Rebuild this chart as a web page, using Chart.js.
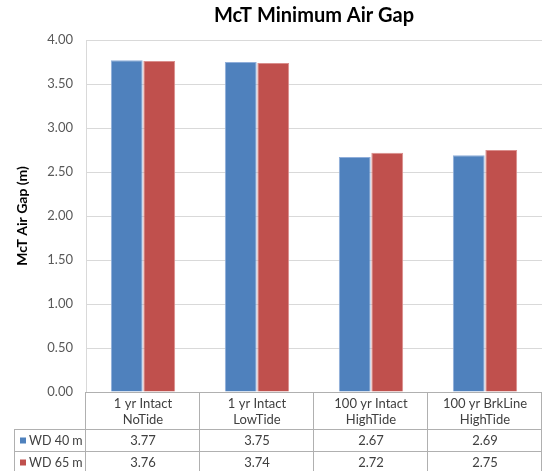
<!DOCTYPE html>
<html>
<head>
<meta charset="utf-8">
<script src="https://cdn.jsdelivr.net/npm/chart.js@4.4.1/dist/chart.umd.min.js"></script>
<style>
  html, body { margin: 0; padding: 0; background: #fff; }
  #wrap { width: 543px; height: 471px; }
</style>
</head>
<body>
<div id="wrap"><canvas id="gap" width="543" height="471"></canvas></div>
<script>
// ---- data ----
const chartTitle = "McT Minimum Air Gap";
const yTitle     = "McT Air Gap (m)";
const categories = [
  ["1 yr Intact", "NoTide"],
  ["1 yr Intact", "LowTide"],
  ["100 yr Intact", "HighTide"],
  ["100 yr BrkLine", "HighTide"]
];
const seriesNames = ["WD 40 m", "WD 65 m"];
const wd40 = [3.77, 3.75, 2.67, 2.69];
const wd65 = [3.76, 3.74, 2.72, 2.75];
const seriesColors = ["#4F81BD", "#C0504D"];
const seriesEdges  = ["#8FAEDA", "#DA8E8C"];

const FONT = "Lato, 'Liberation Sans', sans-serif";
const TEXT = "#404040";
const LINE = "#B0B0B0";

// draws the heading over the plot and the data table under it
const tablePlugin = {
  id: "dataTable",
  afterDraw(chart) {
    const { ctx, chartArea: a, scales: { x } } = chart;
    const colW = x.width / categories.length;
    const headH = 37, rowH = 22;
    const legLeft = 14;
    const r1 = a.bottom + headH;
    const r2 = r1 + rowH;
    const r3 = r2 + rowH;

    ctx.save();
    // heading
    ctx.fillStyle = "#000";
    ctx.font = "bold 20px " + FONT;
    ctx.textAlign = "center";
    ctx.textBaseline = "middle";
    ctx.fillText(chartTitle, (a.left + a.right) / 2, 16);

    // grid of the table
    ctx.strokeStyle = LINE;
    ctx.lineWidth = 1;
    ctx.beginPath();
    ctx.moveTo(a.left, a.bottom + 0.5); ctx.lineTo(a.right, a.bottom + 0.5);
    [r1, r2, r3].forEach(y => { ctx.moveTo(legLeft, y + 0.5); ctx.lineTo(a.right, y + 0.5); });
    for (let i = 0; i <= categories.length; i++) {
      const xx = Math.round(x.left + i * colW) - 0.5;
      ctx.moveTo(xx, a.bottom); ctx.lineTo(xx, r3);
    }
    ctx.moveTo(legLeft + 0.5, r1); ctx.lineTo(legLeft + 0.5, r3);
    ctx.stroke();

    // series rows
    const rows = [wd40, wd65];
    rows.forEach((vals, s) => {
      const cy = r1 + s * rowH + rowH / 2 + 0.5;
      ctx.fillStyle = seriesColors[s];
      ctx.fillRect(legLeft + 6, cy - 3, 6, 6);
      ctx.fillStyle = TEXT;
      ctx.textAlign = "left";
      ctx.font = "12.5px " + FONT;
      ctx.fillText(seriesNames[s], legLeft + 15, cy);
      ctx.textAlign = "center";
      ctx.font = "13px " + FONT;
      vals.forEach((v, i) => ctx.fillText(v.toFixed(2), x.getPixelForTick(i), cy));
    });
    ctx.restore();
  }
};

new Chart(document.getElementById("gap"), {
  type: "bar",
  data: {
    labels: categories,
    datasets: [
      { label: seriesNames[0], data: wd40, backgroundColor: seriesColors[0], borderColor: seriesEdges[0], borderWidth: 1 },
      { label: seriesNames[1], data: wd65, backgroundColor: seriesColors[1], borderColor: seriesEdges[1], borderWidth: 1 }
    ]
  },
  options: {
    responsive: false,
    animation: false,
    categoryPercentage: 0.57,
    barPercentage: 0.98,
    layout: { padding: { top: 40, right: 1, left: 0, bottom: 0 } },
    plugins: {
      legend: { display: false },
      tooltip: { enabled: false },
      title: { display: false }
    },
    scales: {
      x: {
        grid: { display: false, drawTicks: false },
        border: { display: false },
        ticks: { color: TEXT, font: { family: FONT, size: 13, lineHeight: 16 / 13 }, padding: 4, maxRotation: 0 },
        afterFit: s => { s.height = 79; }
      },
      y: {
        min: 0, max: 4,
        ticks: {
          stepSize: 0.5,
          color: "#595959",
          font: { family: FONT, size: 13 },
          padding: 13,
          callback: v => Number(v).toFixed(2)
        },
        grid: { color: "#D9D9D9", drawTicks: false },
        border: { display: true, color: "#D9D9D9" },
        title: {
          display: true,
          text: yTitle,
          color: "#000",
          font: { family: FONT, size: 14, weight: "bold" },
          padding: { top: 14, bottom: 0 }
        },
        afterFit: s => { s.width = 86; }
      }
    }
  },
  plugins: [tablePlugin]
});
</script>
</body>
</html>
